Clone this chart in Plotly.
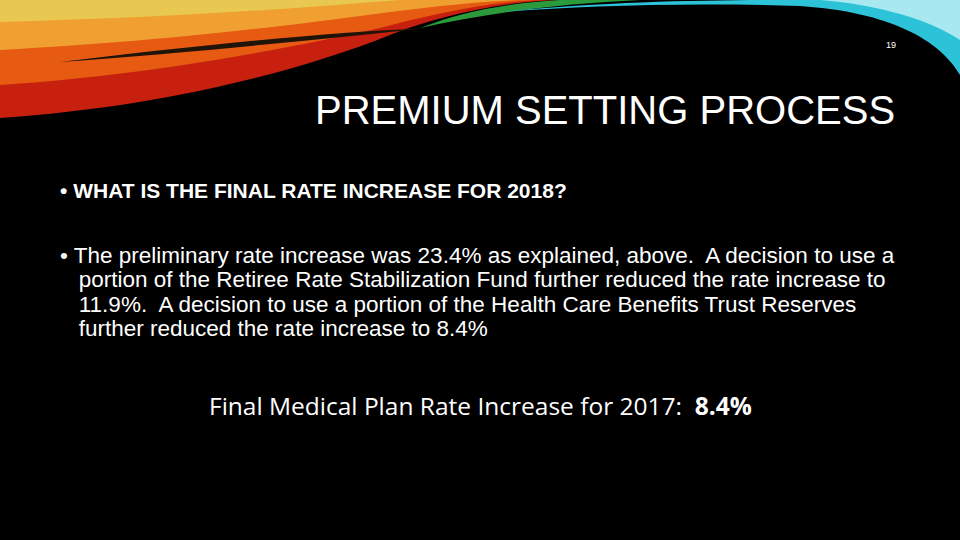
import re
import plotly.graph_objects as go

page_number = "19"
title = "PREMIUM SETTING PROCESS"
question = "• WHAT IS THE FINAL RATE INCREASE FOR 2018?"
body_lines = [
    "• The preliminary rate increase was 23.4% as explained, above.  A decision to use a",
    "   portion of the Retiree Rate Stabilization Fund further reduced the rate increase to",
    "   11.9%.  A decision to use a portion of the Health Care Benefits Trust Reserves",
    "   further reduced the rate increase to 8.4%",
]
final_label = "Final Medical Plan Rate Increase for 2017:  "
final_value = "8.4%"

W, H = 960, 540
bands = [
    ("M0,118 C150,108 290,75 390,35 C440,15 500,2 560,0 L0,0 Z", "#c8200e"),
    ("M0,85 C150,75 280,50 380,28 C430,15 480,3 540,0 L0,0 Z", "#e65a12"),
    ("M0,50 C150,42 270,28 360,16 C420,8 470,2 520,0 L0,0 Z", "#f0a030"),
    ("M0,22 C150,18 280,10 400,0 L0,0 Z", "#e8c850"),
    ("M60,62 C200,45 330,32 430,28 C330,38 200,52 60,62 Z", "#201408"),
    ("M420,28 C460,12 500,4 560,0 L640,0 C560,4 490,12 420,28 Z", "#2a9a3a"),
    ("M500,12 C600,2 700,0 780,0 L960,0 L960,75 C940,40 890,12 800,6 C680,2 580,6 500,12 Z", "#2cc2d8"),
    ("M820,0 L960,0 L960,40 C930,20 880,5 820,0 Z", "#a8e8f0"),
]
shapes = []
for p, c in bands:
    toks = re.split(r"(-?\d+\.?\d*,-?\d+\.?\d*)", p)
    res = ""
    for t in toks:
        if re.fullmatch(r"-?\d+\.?\d*,-?\d+\.?\d*", t):
            x, y = map(float, t.split(","))
            res += f"{x/W:.4f},{1-y/H:.4f}"
        else:
            res += t
    shapes.append(dict(type="path", path=res, xref="paper", yref="paper",
                       fillcolor=c, line=dict(width=0), layer="below"))

ann = []
def px(x, y, text, size, font="Liberation Sans", xanchor="left"):
    ann.append(dict(x=x / W, y=1 - y / H, xref="paper", yref="paper", text=text, showarrow=False,
                    xanchor=xanchor, yanchor="middle", font=dict(size=size, family=font, color="white")))

px(898, 45, page_number, 9, xanchor="right")
px(897, 110, title, 40, xanchor="right")
px(58, 190, "<b>" + question + "</b>", 21)
for i, line in enumerate(body_lines):
    px(58, 255 + i * 24.5, line, 22.5)
px(207, 405, final_label + "<b>" + final_value + "</b>", 24.5, font="Open Sans")

fig = go.Figure()
fig.update_layout(width=W, height=H, margin=dict(l=0, r=0, t=0, b=0),
                  paper_bgcolor="black", plot_bgcolor="black",
                  xaxis=dict(visible=False, range=[0, 1]), yaxis=dict(visible=False, range=[0, 1]),
                  shapes=shapes, annotations=ann, showlegend=False)
fig.write_html("out.html", config={"displayModeBar": False},
               post_script="document.body.style.margin='0';document.body.style.background='black';")
